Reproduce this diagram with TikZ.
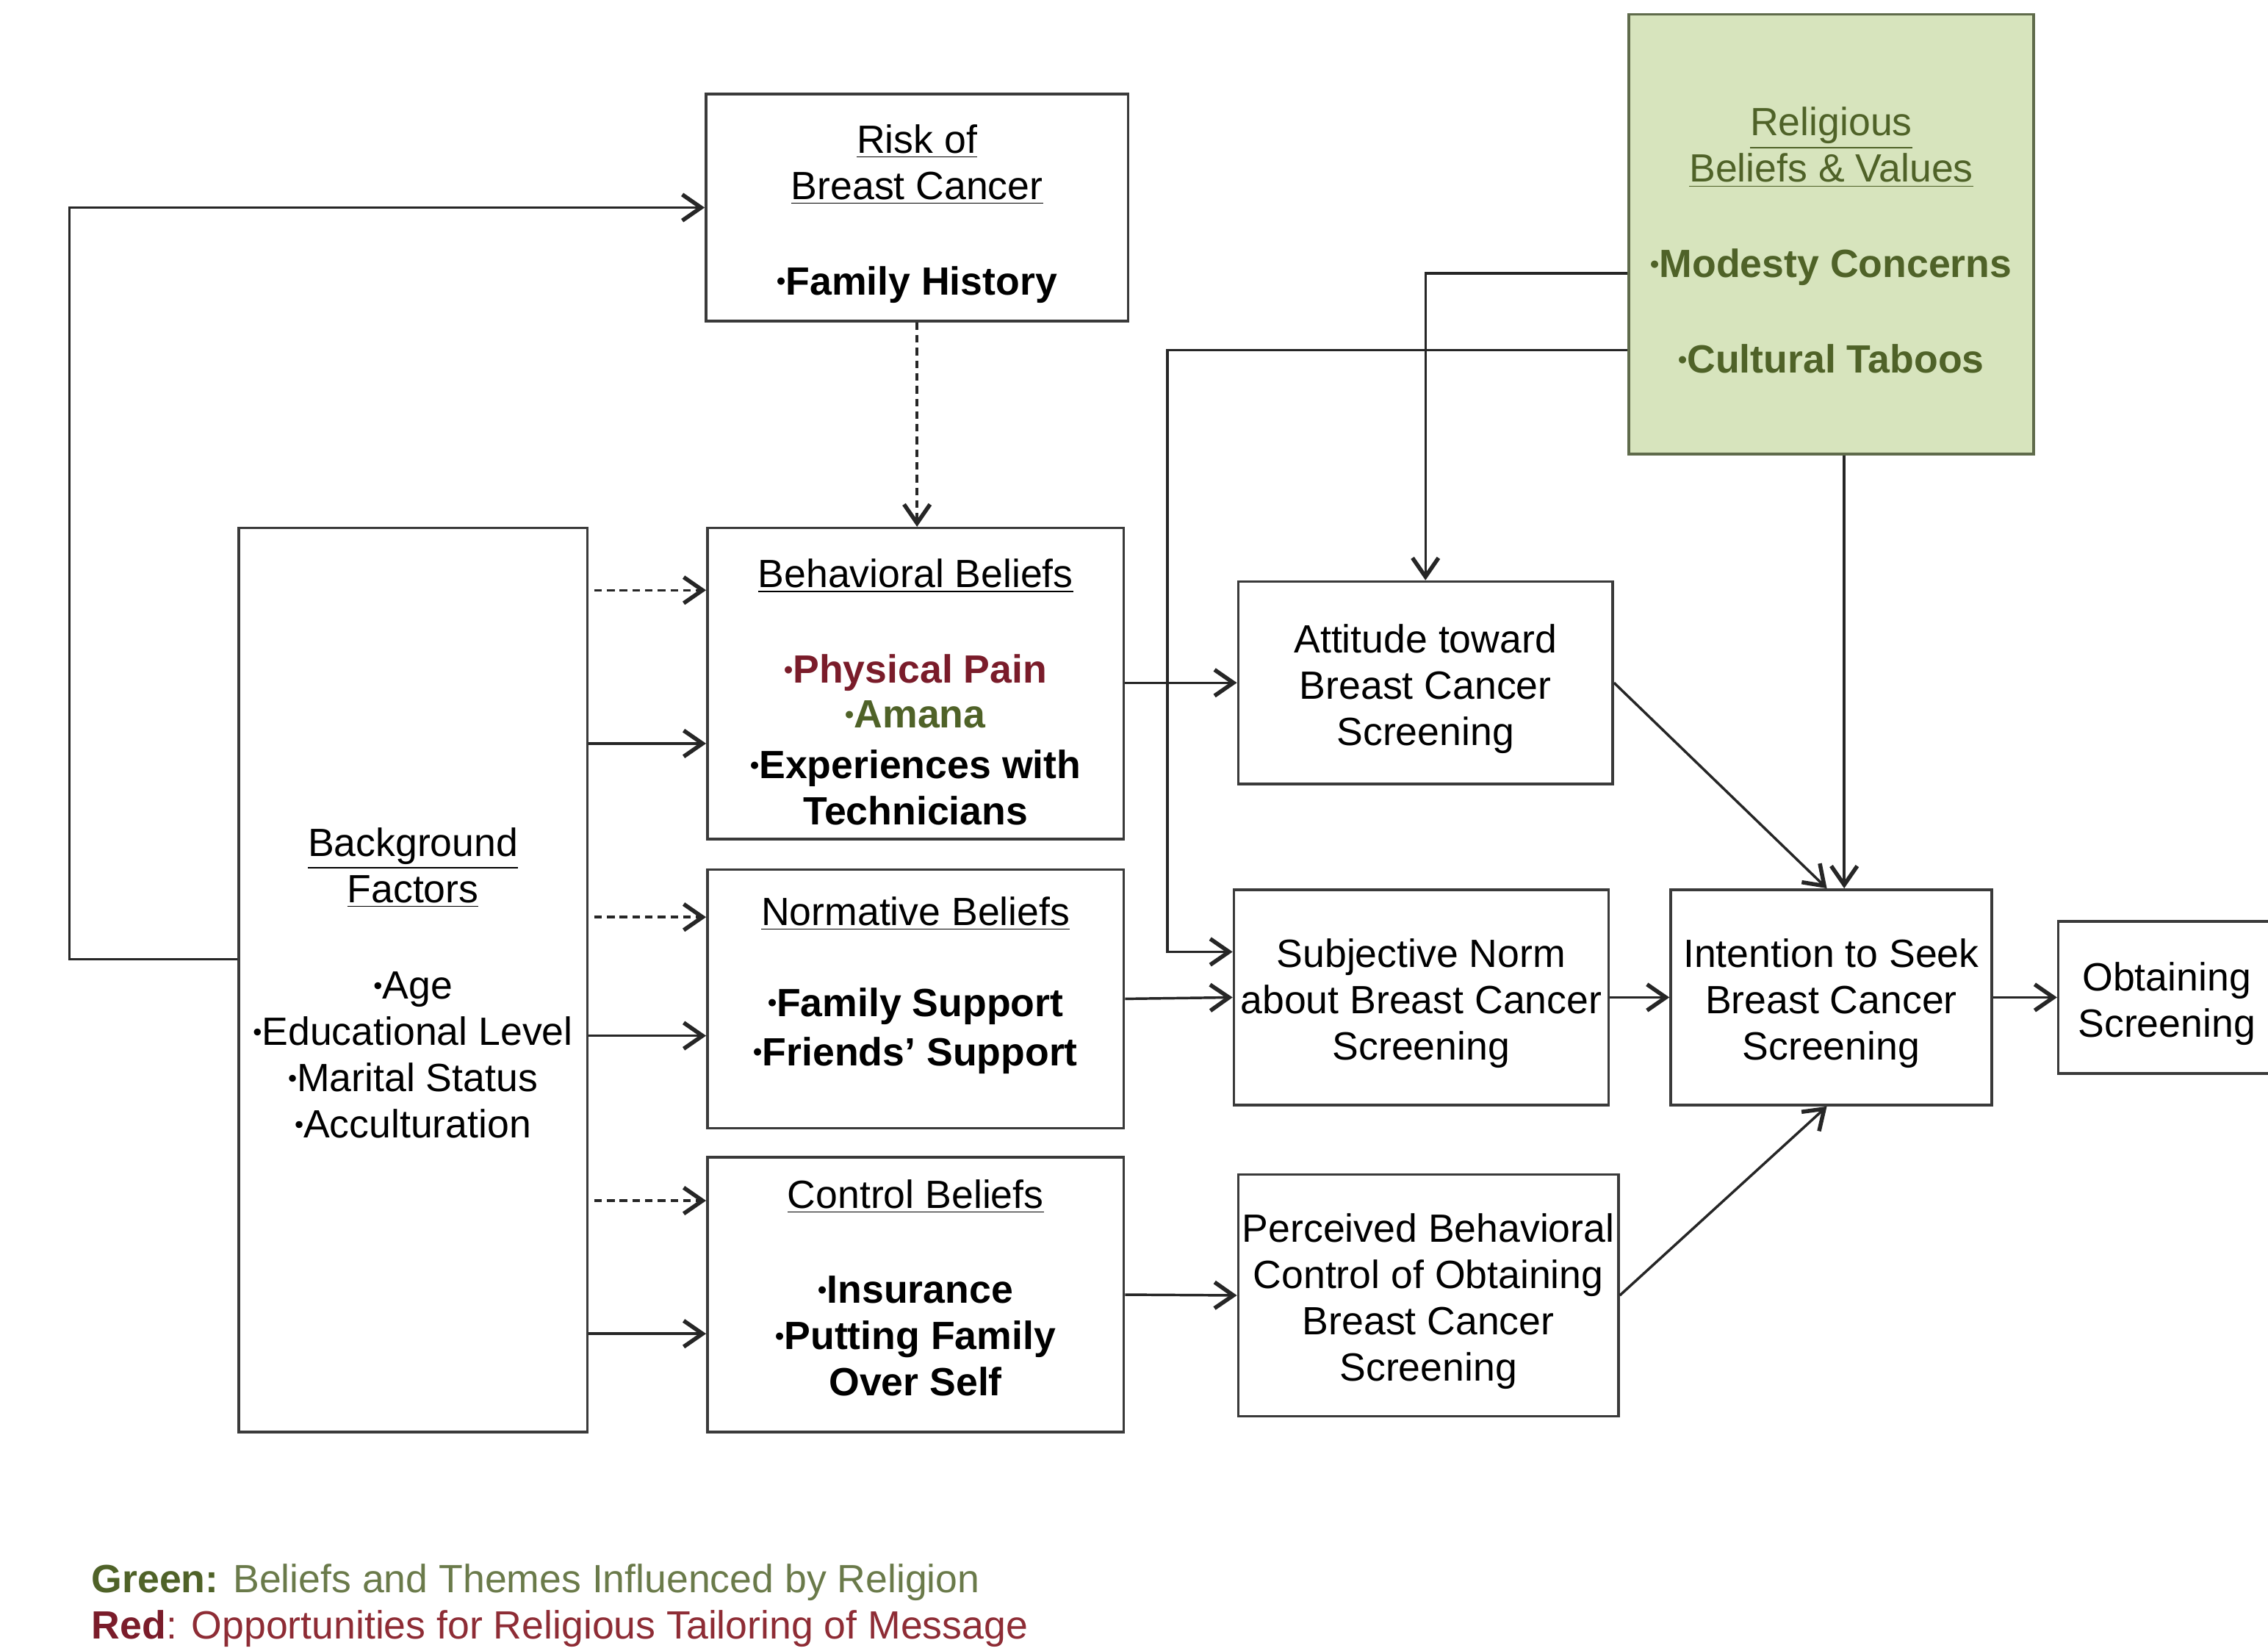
\documentclass[tikz,border=0pt]{standalone}
\usepackage{fontspec}
\setmainfont{Liberation Sans}
\usetikzlibrary{arrows.meta}
\definecolor{boxline}{HTML}{3A3A3A}
\definecolor{relfill}{HTML}{D7E4BD}
\definecolor{relline}{HTML}{5F6B4B}
\definecolor{dgreen}{HTML}{4F6228}
\definecolor{lgreen}{HTML}{6A7A4A}
\definecolor{dred}{HTML}{7A1C2A}
\definecolor{lred}{HTML}{8E2C35}
\newcommand{\bul}{\raisebox{0.12em}{\fontsize{10}{10}\selectfont •}}
\newcommand{\fl}{\rule{0pt}{16pt}}
\newcommand{\fls}{\rule{0pt}{13.5pt}}
\begin{document}
\begin{tikzpicture}[x=0.02cm,y=-0.02cm,
  box/.style={draw=boxline,line width=1pt,fill=white,align=center,inner sep=0pt,font=\fontsize{15.5}{18.2}\selectfont},
  arr/.style={-{Straight Barb[length=0.26cm,width=0.36cm,line width=1.6pt]},line width=1pt,draw=black!85},
  darr/.style={arr,dash pattern=on 3pt off 2pt},
  legend/.style={anchor=base west,inner sep=0pt,font=\fontsize{15.5}{18.2}\selectfont}]
\fill[white] (0,0) rectangle (1568,1141);
\useasboundingbox (0,0) rectangle (1568,1141);

% boxes
\node[box,minimum width=5.84cm,minimum height=3.14cm] (risk) at (634,143.5)
  {\fl\underline{Risk of}\\\underline{Breast Cancer}\\[0.68cm]\textbf{\bul Family History}};
\node[box,fill=relfill,draw=relline,text=dgreen,minimum width=5.6cm,minimum height=6.08cm] (rel) at (1266,162)
  {\fl\underline{Religious}\\\underline{Beliefs \& Values}\\[0.68cm]\textbf{\bul Modesty Concerns}\\[0.68cm]\textbf{\bul Cultural Taboos}};
\node[box,minimum width=4.82cm,minimum height=12.5cm] (bg) at (285.5,677.5)
  {\fls\underline{Background}\\\underline{Factors}\\[0.7cm]\bul Age\\\bul Educational Level\\\bul Marital Status\\\bul Acculturation};
\node[box,minimum width=5.76cm,minimum height=4.3cm] (beh) at (633,472.5)
  {\rule{0pt}{18pt}\underline{Behavioral Beliefs}\\[0.68cm]\textcolor{dred}{\textbf{\bul Physical Pain}}\\[-0.02cm]\textcolor{dgreen}{\textbf{\bul Amana}}\\[0.06cm]\textbf{\bul Experiences with}\\\textbf{Technicians}};
\node[box,minimum width=5.76cm,minimum height=3.58cm] (norm) at (633,690.5)
  {\underline{Normative Beliefs}\\[0.62cm]\textbf{\bul Family Support}\\[0.04cm]\textbf{\bul Friends’ Support}\rule[-14pt]{0pt}{0pt}};
\node[box,minimum width=5.76cm,minimum height=3.8cm] (ctrl) at (633,895)
  {\underline{Control Beliefs}\\[0.68cm]\textbf{\bul Insurance}\\\textbf{\bul Putting Family}\\\textbf{Over Self}\rule[-5.5pt]{0pt}{0pt}};
\node[box,minimum width=5.18cm,minimum height=2.8cm] (att) at (985.5,472)
  {\fl Attitude toward\\Breast Cancer\\Screening};
\node[box,minimum width=5.18cm,minimum height=2.98cm] (subj) at (982.5,689.5)
  {\fl Subjective Norm\\about Breast Cancer\\Screening};
\node[box,minimum width=5.26cm,minimum height=3.34cm] (perc) at (987.5,895.5)
  {\fl Perceived Behavioral\\Control of Obtaining\\Breast Cancer\\Screening};
\node[box,minimum width=4.44cm,minimum height=2.98cm] (int) at (1266,689.5)
  {\fl Intention to Seek\\Breast Cancer\\Screening};
\node[box,minimum width=3.0cm,minimum height=2.1cm] (obt) at (1498,689.5)
  {\fl Obtaining\\Screening};

% legend
\node[legend] (leg1) at (63,1101) {\textcolor{dgreen}{\textbf{Green:}} \textcolor{lgreen}{Beliefs and Themes Influenced by Religion}};
\node[legend] (leg2) at (63,1133) {\textcolor{dred}{\textbf{Red}}\textcolor{lred}{: Opportunities for Religious Tailoring of Message}};

% routing helpers
\coordinate (L1) at (48,663);
\coordinate (yA) at (0,408);
\coordinate (yB) at (0,514);
\coordinate (yC) at (0,634);
\coordinate (yD) at (0,716);
\coordinate (yE) at (0,830);
\coordinate (yF) at (0,922);
\coordinate (cM) at (0,189);
\coordinate (cT) at (807,242);
\coordinate (cN) at (807,658);
\coordinate (cR) at (1275,0);

% connectors
\draw[arr] (bg.west |- L1) -- (L1) |- (risk.west);
\draw[darr] (risk.south) -- (risk.south |- beh.north);
\draw[darr] ([xshift=0.08cm]bg.east |- yA) -- (beh.west |- yA);
\draw[arr] (bg.east |- yB) -- (beh.west |- yB);
\draw[darr] ([xshift=0.08cm]bg.east |- yC) -- (norm.west |- yC);
\draw[arr] (bg.east |- yD) -- (norm.west |- yD);
\draw[darr] ([xshift=0.08cm]bg.east |- yE) -- (ctrl.west |- yE);
\draw[arr] (bg.east |- yF) -- (ctrl.west |- yF);
\draw[arr] (beh.east |- att.west) -- (att.west);
\draw[arr] (norm.east) -- (subj.west);
\draw[arr] (ctrl.east) -- (perc.west);
\draw[arr] (rel.west |- cM) -| (att.north);
\draw[arr] (rel.west |- cT) -- (cT) -- (cN) -- (subj.west |- cN);
\draw[arr] (rel.south -| cR) -- (int.north -| cR);
\draw[arr] (att.east) -- ([xshift=-0.06cm]int.north);
\draw[arr] (subj.east) -- (int.west);
\draw[arr] (perc.east) -- ([xshift=-0.06cm]int.south);
\draw[arr] (int.east) -- (obt.west);
\end{tikzpicture}
\end{document}
